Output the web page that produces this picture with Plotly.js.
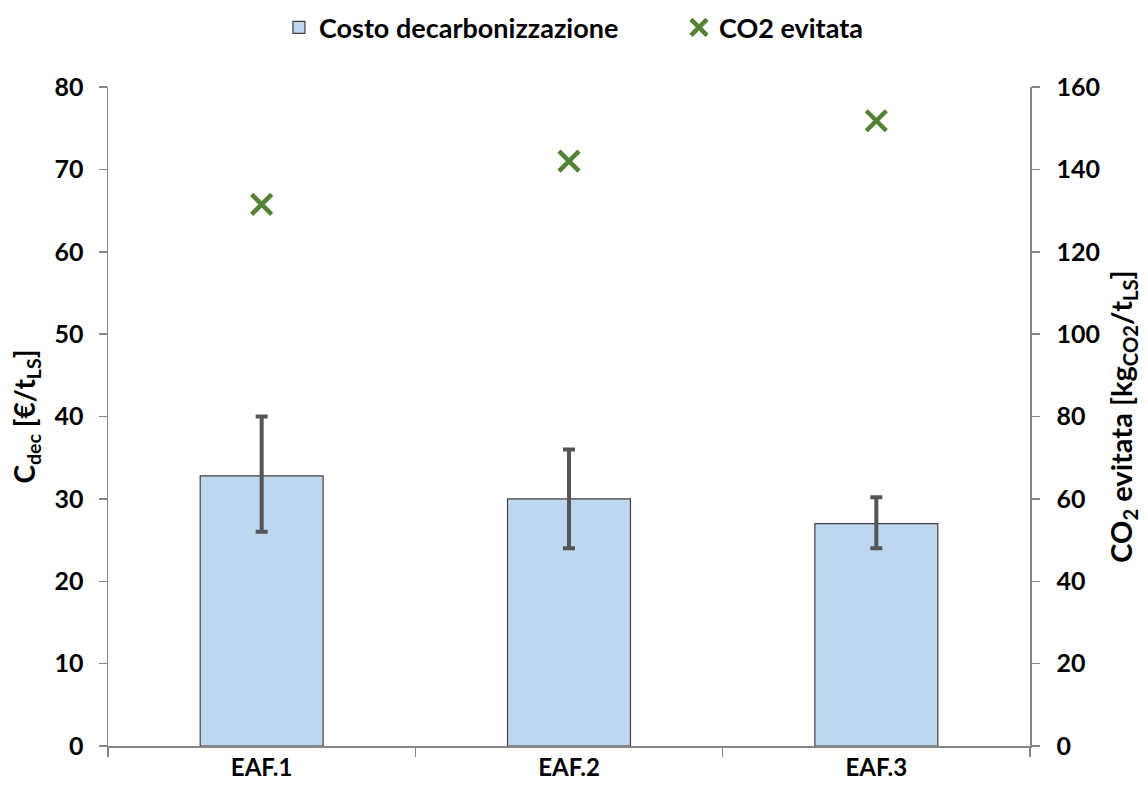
<!DOCTYPE html>
<html>
<head>
<meta charset="utf-8">
<script src="https://cdn.plot.ly/plotly-3.0.1.min.js"></script>
<style>html,body{margin:0;padding:0;background:#fff;}#chart{width:1148px;height:794px;}</style>
</head>
<body>
<div id="chart"></div>
<script>
const categories = ["EAF.1", "EAF.2", "EAF.3"];
const costValues = [32.8, 30.0, 27.0];
const costErrPlus = [7.2, 6.0, 3.2];
const costErrMinus = [6.8, 6.0, 3.0];
const co2Values = [131.5, 142, 151.8];

const FONT = "Lato, 'Open Sans', sans-serif";

const traces = [
  {
    type: "bar",
    name: "Costo decarbonizzazione",
    x: categories,
    y: costValues,
    width: 0.4,
    marker: {color: "#BDD7EE", line: {color: "#404040", width: 1.2}},
    error_y: {type: "data", symmetric: false, array: costErrPlus, arrayminus: costErrMinus,
              color: "#555555", thickness: 4, width: 6},
    yaxis: "y"
  },
  {
    type: "scatter",
    mode: "markers",
    name: "CO2 evitata",
    x: categories,
    y: co2Values,
    marker: {symbol: "x-thin", size: 20, line: {color: "#548235", width: 4.5}, color: "#548235"},
    yaxis: "y2"
  }
];

const layout = {
  width: 1148, height: 794,
  margin: {l: 108, r: 118, t: 87, b: 48, autoexpand: false},
  paper_bgcolor: "#fff", plot_bgcolor: "#fff",
  font: {family: FONT, size: 24, color: "#000"},
  showlegend: true,
  legend: {orientation: "h", x: 0.243, xanchor: "left", xref: "container",
           y: 0.965, yanchor: "middle", yref: "container", entrywidth: 355, entrywidthmode: "pixels",
           font: {family: FONT, size: 27, color: "#000", weight: "bold"}, itemwidth: 30, traceorder: "normal"},
  xaxis: {
    type: "category", range: [-0.5, 2.5], showgrid: false,
    showline: true, linecolor: "#868686", linewidth: 1.5,
    ticks: "outside", tickson: "boundaries", ticklen: 9, tickcolor: "#868686", tickwidth: 1.5,
    tickfont: {family: FONT, size: 24, weight: "bold"}
  },
  yaxis: {
    range: [0, 80], dtick: 10, showgrid: false, zeroline: false,
    showline: true, linecolor: "#868686", linewidth: 1.5,
    ticks: "outside", ticklen: 8, tickcolor: "#868686", tickwidth: 1.5, ticklabelstandoff: 10,
    tickfont: {family: FONT, size: 25, weight: "bold"},
    title: {text: "C<sub>dec</sub> [€/t<sub>LS</sub>]", font: {family: FONT, size: 28, weight: "bold"}, standoff: 10}
  },
  yaxis2: {
    overlaying: "y", side: "right", range: [0, 160], dtick: 20, showgrid: false, zeroline: false,
    showline: true, linecolor: "#868686", linewidth: 1.5,
    ticks: "outside", ticklen: 8, tickcolor: "#868686", tickwidth: 1.5, ticklabelstandoff: 12,
    tickfont: {family: FONT, size: 25, weight: "bold"},
    title: {text: "CO<sub>2</sub> evitata [kg<sub>CO2</sub>/t<sub>LS</sub>]", font: {family: FONT, size: 29, weight: "bold"}, standoff: 12}
  }
};

Plotly.newPlot("chart", traces, layout, {displayModeBar: false, staticPlot: true});
</script>
</body>
</html>
